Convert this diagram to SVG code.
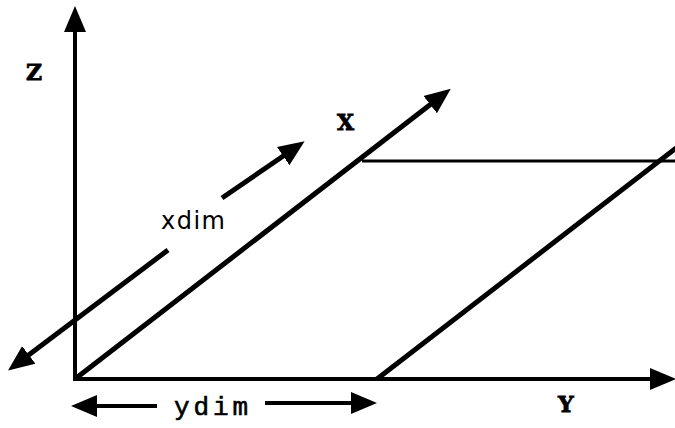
<svg xmlns="http://www.w3.org/2000/svg" width="675" height="428" viewBox="0 0 675 428">
  <style>
    .ln { stroke: #000; fill: none; stroke-linecap: butt; }
    .ax { stroke-width: 4; }
    .th { stroke-width: 3; }
    .dg { stroke-width: 5; }
    .lbl { font-family: "DejaVu Serif", "Liberation Serif", serif; font-weight: bold; font-size: 22px; fill: #000; stroke: #000; stroke-width: 0.8; }
    .dim { font-family: "DejaVu Sans", "Liberation Sans", sans-serif; font-size: 24px; fill: #000; }
    .dimc { font-family: "Liberation Mono", "DejaVu Sans Mono", monospace; font-size: 26px; fill: #000; stroke: #000; stroke-width: 0.6; }
  </style>
  <defs>
    <marker id="ah" markerUnits="userSpaceOnUse" viewBox="0 -12 27 24" refX="1" refY="0" markerWidth="27" markerHeight="24" orient="auto">
      <path d="M0,-11 L26,0 L0,11 z" fill="#000"/>
    </marker>
  </defs>
  <rect width="675" height="428" fill="#fff"/>
  <g id="connectors">
    <line id="z-axis" class="ln ax" x1="75" y1="381" x2="75" y2="31" marker-end="url(#ah)"/>
    <line id="y-axis" class="ln ax" x1="73" y1="379" x2="651" y2="379" marker-end="url(#ah)"/>
    <line id="x-axis" class="ln dg" x1="75" y1="379" x2="431" y2="104" marker-end="url(#ah)"/>
    <line id="top-edge" class="ln th" x1="362" y1="161" x2="675" y2="161"/>
    <line id="far-edge" class="ln dg" x1="377" y1="379" x2="680" y2="145"/>
    <line id="xdim-up" class="ln dg" x1="222" y1="198" x2="284" y2="155.5" marker-end="url(#ah)"/>
    <line id="xdim-down" class="ln dg" x1="168" y1="250" x2="28" y2="355.5" marker-end="url(#ah)"/>
    <line id="ydim-left" class="ln ax" x1="157" y1="406" x2="96" y2="406" marker-end="url(#ah)"/>
    <line id="ydim-right" class="ln ax" x1="265" y1="403" x2="352" y2="403" marker-end="url(#ah)"/>
  </g>
  <g id="label-z"><text class="lbl" x="26" y="80">Z</text></g>
  <g id="label-x"><text class="lbl" x="337" y="130">X</text></g>
  <g id="label-y"><text class="lbl" x="558" y="412">Y</text></g>
  <g id="label-xdim"><text class="dim" x="161" y="229" textLength="64" lengthAdjust="spacing">xdim</text></g>
  <g id="label-ydim"><text class="dimc" x="174" y="415" textLength="74" lengthAdjust="spacing">ydim</text></g>
</svg>
